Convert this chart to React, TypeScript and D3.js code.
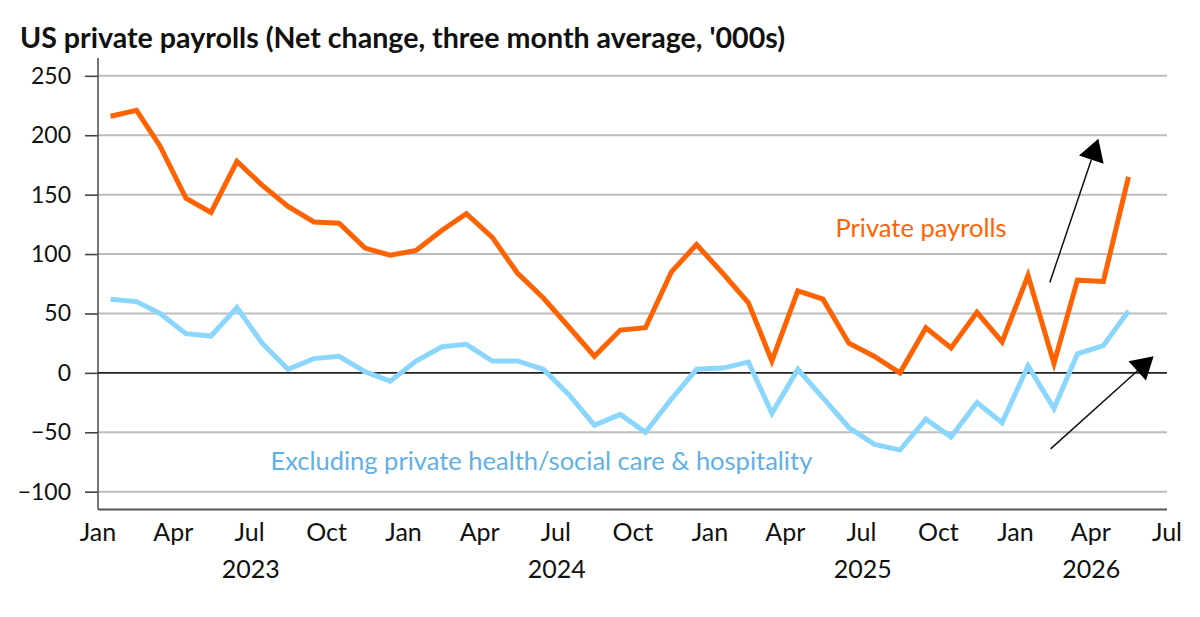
import { useEffect, useRef } from "react";
import * as d3 from "d3";

// Monthly observations, Jan 2023 - May 2026 (three month average, '000s)
const months = [
  "2023-01", "2023-02", "2023-03", "2023-04", "2023-05", "2023-06", "2023-07", "2023-08", "2023-09", "2023-10", "2023-11", "2023-12",
  "2024-01", "2024-02", "2024-03", "2024-04", "2024-05", "2024-06", "2024-07", "2024-08", "2024-09", "2024-10", "2024-11", "2024-12",
  "2025-01", "2025-02", "2025-03", "2025-04", "2025-05", "2025-06", "2025-07", "2025-08", "2025-09", "2025-10", "2025-11", "2025-12",
  "2026-01", "2026-02", "2026-03", "2026-04", "2026-05",
];

const privatePayrolls = [
  216, 221, 191, 147, 135, 178, 158, 140, 127, 126, 105, 99,
  103, 120, 134, 114, 84, 63, 39, 14, 36, 38, 85, 108,
  84, 59, 10, 69, 62, 25, 14, 0, 38, 21, 51, 26,
  82, 8, 78, 77, 165,
];

const excludingHealthHospitality = [
  62, 60, 50, 33, 31, 55, 25, 3, 12, 14, 1, -7,
  10, 22, 24, 10, 10, 3, -18, -44, -35, -50, -22, 3,
  4, 9, -34, 3, -21, -46, -60, -65, -39, -54, -25, -42,
  6, -30, 16, 23, 52,
];

const yTicks = [-100, -50, 0, 50, 100, 150, 200, 250];
const years = [2023, 2024, 2025, 2026];

// annotation arrows, in data space: [date, value]
const arrows = [
  { from: ["2026-02-11", 76], to: ["2026-04-10", 197] },
  { from: ["2026-02-12", -64], to: ["2026-06-15", 14] },
];

const seriesLabels = [
  { text: "Private payrolls", at: ["2025-05-31", 114], color: "#FF6200" },
  { text: "Excluding private health/social care & hospitality", at: ["2023-07-26", -82], color: "#5FB0E6" },
];

const parseDay = d3.timeParse("%Y-%m-%d");
const midMonth = (m: string) => parseDay(m + "-16") as Date;

export default function App() {
  const svgRef = useRef<SVGSVGElement | null>(null);

  useEffect(() => {
    if (!svgRef.current) return;
    const svg = d3.select(svgRef.current);
    svg.selectAll("*").remove();

    const width = 1200;
    const height = 617;
    const font = "Lato, 'Open Sans', sans-serif";

    const x = d3
      .scaleTime()
      .domain([new Date(2023, 0, 1), new Date(2026, 6, 1)])
      .range([98, 1167]);

    const y = d3.scaleLinear().domain([-115, 265]).range([509.5, 58]);

    svg.attr("width", width).attr("height", height);

    // Title
    svg
      .append("text")
      .attr("x", 20)
      .attr("y", 48)
      .style("font-family", font)
      .style("font-weight", "bold")
      .style("font-size", "28.6px")
      .style("fill", "#111")
      .text("US private payrolls (Net change, three month average, '000s)");

    // Horizontal grid
    svg
      .append("g")
      .selectAll("line")
      .data(yTicks.filter(d => d !== 0))
      .join("line")
      .attr("x1", x.range()[0])
      .attr("x2", x.range()[1])
      .attr("y1", d => y(d))
      .attr("y2", d => y(d))
      .attr("stroke", "#BDBDBD")
      .attr("stroke-width", 2);

    // Y axis
    const yAxis = svg
      .append("g")
      .attr("transform", `translate(${x.range()[0]},0)`)
      .call(d3.axisLeft(y).tickValues(yTicks).tickSize(13).tickPadding(14));
    yAxis.select(".domain").remove();
    yAxis.selectAll(".tick line").attr("stroke", "#444").attr("stroke-width", 1.6);
    yAxis
      .selectAll(".tick text")
      .style("font-family", font)
      .style("font-size", "23px")
      .style("fill", "#111");

    svg
      .append("line")
      .attr("x1", x.range()[0])
      .attr("x2", x.range()[0])
      .attr("y1", y.range()[1])
      .attr("y2", y.range()[0])
      .attr("stroke", "#555")
      .attr("stroke-width", 1.6);

    // zero line
    svg
      .append("line")
      .attr("x1", x.range()[0])
      .attr("x2", x.range()[1])
      .attr("y1", y(0))
      .attr("y2", y(0))
      .attr("stroke", "#222")
      .attr("stroke-width", 1.6);

    // X axis
    svg
      .append("line")
      .attr("x1", x.range()[0])
      .attr("x2", x.range()[1])
      .attr("y1", y.range()[0])
      .attr("y2", y.range()[0])
      .attr("stroke", "#555")
      .attr("stroke-width", 2);

    const xTicks = d3.timeMonth.every(3)!.range(x.domain()[0], d3.timeDay.offset(x.domain()[1], 1));
    svg
      .append("g")
      .selectAll("text")
      .data(xTicks)
      .join("text")
      .attr("x", d => x(d))
      .attr("y", 541)
      .attr("text-anchor", "middle")
      .style("font-family", font)
      .style("font-size", "25px")
      .style("fill", "#111")
      .text(d => d3.timeFormat("%b")(d));

    // Year labels centred under the visible part of each year
    svg
      .append("g")
      .selectAll("text")
      .data(years)
      .join("text")
      .attr("x", yr => {
        const a = d3.max([new Date(yr, 0, 1), x.domain()[0]]) as Date;
        const b = d3.min([new Date(yr + 1, 0, 1), x.domain()[1]]) as Date;
        return (x(a) + x(b)) / 2;
      })
      .attr("y", 578)
      .attr("text-anchor", "middle")
      .style("font-family", font)
      .style("font-size", "25px")
      .style("fill", "#111")
      .text(yr => String(yr));

    // Lines
    const line = d3
      .line<number>()
      .x((_, i) => x(midMonth(months[i])))
      .y(d => y(d));

    svg
      .append("path")
      .datum(excludingHealthHospitality)
      .attr("fill", "none")
      .attr("stroke", "#8AD6FD")
      .attr("stroke-width", 5)
      .attr("stroke-linejoin", "miter")
      .attr("d", line);

    svg
      .append("path")
      .datum(privatePayrolls)
      .attr("fill", "none")
      .attr("stroke", "#FF6200")
      .attr("stroke-width", 5)
      .attr("stroke-linejoin", "miter")
      .attr("d", line);

    // Series labels
    svg
      .append("g")
      .selectAll("text")
      .data(seriesLabels)
      .join("text")
      .attr("x", d => x(parseDay(d.at[0] as string) as Date))
      .attr("y", d => y(d.at[1] as number))
      .style("font-family", font)
      .style("font-size", "25.5px")
      .style("fill", d => d.color)
      .text(d => d.text);

    // Arrows
    const headLen = 22;
    const headHalf = 13;
    arrows.forEach(a => {
      const x0 = x(parseDay(a.from[0] as string) as Date);
      const y0 = y(a.from[1] as number);
      const x1 = x(parseDay(a.to[0] as string) as Date);
      const y1 = y(a.to[1] as number);
      const len = Math.hypot(x1 - x0, y1 - y0);
      const ux = (x1 - x0) / len;
      const uy = (y1 - y0) / len;
      const bx = x1 - ux * headLen;
      const by = y1 - uy * headLen;
      svg
        .append("line")
        .attr("x1", x0)
        .attr("y1", y0)
        .attr("x2", bx)
        .attr("y2", by)
        .attr("stroke", "#111")
        .attr("stroke-width", 1.5);
      svg
        .append("polygon")
        .attr(
          "points",
          [
            [x1, y1],
            [bx - uy * headHalf, by + ux * headHalf],
            [bx + uy * headHalf, by - ux * headHalf],
          ]
            .map(p => p.join(","))
            .join(" ")
        )
        .attr("fill", "#000");
    });
  }, []);

  return (
    <div style={{ position: "absolute", left: 0, top: 0, width: 1200, height: 617, background: "#fff" }}>
      <svg ref={svgRef} style={{ display: "block" }}></svg>
    </div>
  );
}
